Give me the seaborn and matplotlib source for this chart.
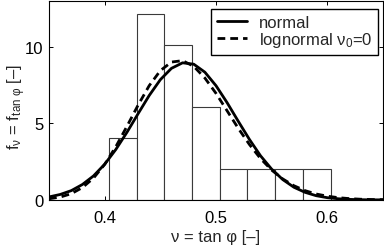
import matplotlib
matplotlib.use("Agg")
import matplotlib.pyplot as plt
import seaborn as sns
import numpy as np
import pandas as pd

# ---- data ----
bin_edges = [0.4037, 0.4286, 0.4535, 0.4784, 0.5033, 0.5282, 0.5531, 0.5780, 0.6029]
bin_heights = [4.02, 12.1, 10.08, 6.04, 2.01, 2.01, 2.01, 2.01]

curve_x = [0.35, 0.36, 0.37, 0.38, 0.39, 0.40, 0.41, 0.42, 0.43, 0.44, 0.45,
           0.46, 0.47, 0.48, 0.49, 0.50, 0.51, 0.52, 0.53, 0.54, 0.55, 0.56,
           0.57, 0.58, 0.59, 0.60, 0.61, 0.62, 0.63, 0.64, 0.65]
normal_y = [0.20, 0.36, 0.61, 1.01, 1.57, 2.33, 3.29, 4.41, 5.62, 6.81, 7.84,
            8.58, 8.94, 8.85, 8.33, 7.45, 6.34, 5.13, 3.95, 2.88, 2.01, 1.33,
            0.83, 0.50, 0.28, 0.15, 0.08, 0.04, 0.02, 0.01, 0.01]
lognormal_y = [0.08, 0.19, 0.41, 0.81, 1.43, 2.32, 3.47, 4.80, 6.18, 7.45, 8.43,
               8.99, 9.08, 8.71, 7.95, 6.95, 5.81, 4.67, 3.62, 2.70, 1.95, 1.37,
               0.93, 0.61, 0.39, 0.25, 0.15, 0.09, 0.05, 0.03, 0.02]

x_ticks = [0.4, 0.5, 0.6]
y_ticks = [0, 5, 10]
legend_labels = ["normal", r"lognormal $\mathregular{\nu_0}$=0"]

# ---- style ----
sns.set_theme(style="white")
plt.rcParams["font.family"] = ["Liberation Sans", "DejaVu Sans"]
plt.rcParams["mathtext.fontset"] = "custom"
plt.rcParams["mathtext.rm"] = "Liberation Sans"
plt.rcParams["mathtext.it"] = "Liberation Sans"
plt.rcParams["mathtext.bf"] = "Liberation Sans:bold"

fig = plt.figure(figsize=(3.84, 2.53), dpi=100)
ax = fig.add_axes([49 / 384, 1 - 201 / 253, (383 - 49) / 384, (201 - 1.5) / 253])

centers = [(bin_edges[i] + bin_edges[i + 1]) / 2 for i in range(len(bin_heights))]
hist_df = pd.DataFrame({"x": centers, "w": bin_heights})
sns.histplot(data=hist_df, x="x", weights="w", bins=bin_edges, stat="count",
             facecolor="white", edgecolor="#3a3a3a", linewidth=0.8, alpha=1,
             ax=ax)

curve_df = pd.DataFrame({"x": curve_x, "n": normal_y, "l": lognormal_y})
sns.lineplot(data=curve_df, x="x", y="n", color="black", linewidth=2.0,
             label=legend_labels[0], ax=ax)
sns.lineplot(data=curve_df, x="x", y="l", color="black", linewidth=2.0,
             linestyle=(0, (2.8, 1.8)), label=legend_labels[1], ax=ax)

ax.set_xlim(0.35, 0.65)
ax.set_ylim(0, 13)
ax.set_xticks(x_ticks)
ax.set_xticklabels([f"{t:.1f}" for t in x_ticks])
ax.set_yticks(y_ticks)
ax.set_yticklabels([str(t) for t in y_ticks])

for s in ax.spines.values():
    s.set_visible(True)
    s.set_color("black")
    s.set_linewidth(0.8)
ax.tick_params(direction="in", length=3, width=0.7, top=True, right=True,
               bottom=True, left=True, labelsize=12, colors="black")
ax.tick_params(axis="x", pad=7)
ax.tick_params(axis="y", pad=4)

ax.set_xlabel("ν = tan φ [–]", fontsize=12, labelpad=3)
ax.set_ylabel(r"f$\mathregular{_\nu}$ = f$\mathregular{_{tan\ \varphi}}$ [–]", fontsize=12)
ax.yaxis.set_label_coords(-0.064, 0.47)

leg = ax.legend(loc="upper right", bbox_to_anchor=(378 / 384, 1 - 10 / 253),
                bbox_transform=fig.transFigure, borderaxespad=0,
                frameon=True, fancybox=False, fontsize=12,
                handlelength=1.8, borderpad=0.35, labelspacing=0.0,
                handletextpad=0.7)
leg.get_frame().set_edgecolor("black")
leg.get_frame().set_linewidth(1.0)
leg.get_frame().set_alpha(1)

fig.savefig("out.png", dpi=100)
